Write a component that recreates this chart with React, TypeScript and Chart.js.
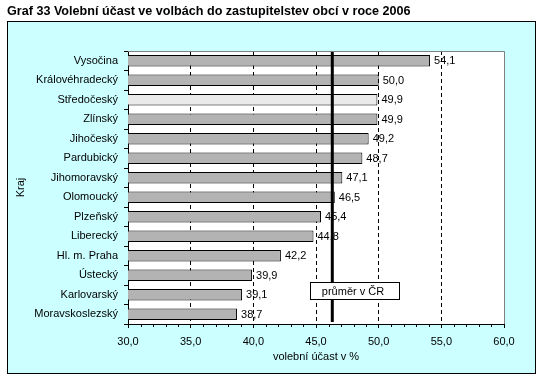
import React, { useEffect, useRef } from "react";
import { Chart, registerables } from "chart.js";

Chart.register(...registerables);

const chartTitle = "Graf 33 Volební účast ve volbách do zastupitelstev obcí v roce 2006";
const xAxisTitle = "volební účast v %";
const yAxisTitle = "Kraj";
const averageLabel = "průměr v ČR";

const regions = [
  "Vysočina",
  "Královéhradecký",
  "Středočeský",
  "Zlínský",
  "Jihočeský",
  "Pardubický",
  "Jihomoravský",
  "Olomoucký",
  "Plzeňský",
  "Liberecký",
  "Hl. m. Praha",
  "Ústecký",
  "Karlovarský",
  "Moravskoslezský",
];
const turnout = [54.1, 50.0, 49.9, 49.9, 49.2, 48.7, 47.1, 46.5, 45.4, 44.8, 42.2, 39.9, 39.1, 38.7];
const highlightedRegion = "Středočeský";
const averageCR = 46.3;
const xMin = 30;
const xMax = 60;
const xStep = 5;
const xMinorStep = 1;

const FONT = '"Liberation Sans", Arial, sans-serif';
const fmt = (v: number) => v.toFixed(1).replace(".", ",");

const framePlugin = {
  id: "frame",
  beforeDraw(chart: any) {
    const { ctx, chartArea: a } = chart;
    ctx.save();
    ctx.fillStyle = "#ffffff";
    ctx.fillRect(0, 0, chart.width, chart.height);
    ctx.fillStyle = "#CCFFFF";
    ctx.fillRect(7, 21, 529, 353);
    ctx.strokeStyle = "#000000";
    ctx.lineWidth = 1;
    ctx.strokeRect(7.5, 21.5, 528, 352);
    ctx.fillStyle = "#ffffff";
    ctx.fillRect(a.left, a.top, a.right - a.left, a.bottom - a.top);
    // title
    ctx.fillStyle = "#000000";
    ctx.font = `bold 12.6px ${FONT}`;
    ctx.textAlign = "left";
    ctx.textBaseline = "alphabetic";
    ctx.fillText(chartTitle, 7, 15);
    // axis titles
    ctx.font = `11px ${FONT}`;
    ctx.textAlign = "center";
    ctx.textBaseline = "middle";
    ctx.fillText(xAxisTitle, (a.left + a.right) / 2, 357);
    ctx.save();
    ctx.translate(21, (a.top + a.bottom) / 2);
    ctx.rotate(-Math.PI / 2);
    ctx.fillText(yAxisTitle, 0, 0);
    ctx.restore();
    ctx.restore();
  },
  afterDatasetsDraw(chart: any) {
    const { ctx, chartArea: a, scales } = chart;
    const xs = scales.x;
    ctx.save();
    // plot border top/right
    ctx.strokeStyle = "#808080";
    ctx.lineWidth = 1;
    ctx.beginPath();
    ctx.moveTo(a.left, a.top + 0.5);
    ctx.lineTo(a.right + 0.5, a.top + 0.5);
    ctx.lineTo(a.right + 0.5, a.bottom);
    ctx.stroke();
    // minor ticks
    ctx.strokeStyle = "#000000";
    ctx.beginPath();
    for (let v = xMin; v <= xMax; v += xMinorStep) {
      if (v % xStep === 0) continue;
      const px = Math.round(xs.getPixelForValue(v)) + 0.5;
      ctx.moveTo(px, a.bottom);
      ctx.lineTo(px, a.bottom + 3);
    }
    ctx.stroke();
    // average line
    const ax = xs.getPixelForValue(averageCR);
    ctx.lineWidth = 3;
    ctx.beginPath();
    ctx.moveTo(ax, a.top + 1);
    ctx.lineTo(ax, a.bottom - 2);
    ctx.stroke();
    // annotation box
    const bx = Math.round(ax - 22) + 0.5;
    const by = Math.round(a.bottom - 42) + 0.5;
    const bw = 89;
    const bh = 17;
    ctx.fillStyle = "#ffffff";
    ctx.fillRect(bx, by, bw, bh);
    ctx.lineWidth = 1;
    ctx.strokeRect(bx, by, bw, bh);
    ctx.fillStyle = "#000000";
    ctx.font = `11px ${FONT}`;
    ctx.textAlign = "center";
    ctx.textBaseline = "middle";
    ctx.fillText(averageLabel, bx + bw / 2 - 2, by + bh / 2 + 0.5);
    // data labels
    const meta = chart.getDatasetMeta(0);
    ctx.textAlign = "left";
    meta.data.forEach((bar: any, i: number) => {
      ctx.fillText(fmt(turnout[i]), bar.x + 4, bar.y + 0.5);
    });
    ctx.restore();
  },
};

export default function App() {
  const ref = useRef<HTMLCanvasElement | null>(null);
  useEffect(() => {
    if (!ref.current) return;
    const chart = new Chart(ref.current, {
      type: "bar",
      data: {
        labels: regions,
        datasets: [
          {
            data: turnout,
            backgroundColor: regions.map((r) => (r === highlightedRegion ? "#EAEAEA" : "#B3B3B3")),
            borderColor: "#000000",
            borderWidth: 1,
            borderSkipped: false,
            barPercentage: 0.6,
            categoryPercentage: 1,
          },
        ],
      },
      options: {
        indexAxis: "y",
        animation: false,
        responsive: false,
        devicePixelRatio: 1,
        layout: { padding: { left: 0, top: 51, right: 38, bottom: 0 } },
        plugins: {
          legend: { display: false },
          tooltip: { enabled: false },
          title: { display: false },
        },
        scales: {
          x: {
            type: "linear",
            min: xMin,
            max: xMax,
            afterFit: (s: any) => {
              s.height = 57;
            },
            ticks: {
              stepSize: xStep,
              color: "#000000",
              font: { family: FONT, size: 11 },
              padding: 7,
              callback: (v: any) => fmt(Number(v)),
            },
            grid: {
              color: (c: any) =>
                c.tick && (c.tick.value === xMin || c.tick.value === xMax) ? "rgba(0,0,0,0)" : "#000000",
              tickColor: "#000000",
              tickLength: 4,
              lineWidth: 1,
            },
            border: { color: "#000000", width: 1, dash: [4, 3] },
          },
          y: {
            type: "category",
            afterFit: (s: any) => {
              s.width = 128;
            },
            ticks: {
              color: "#000000",
              font: { family: FONT, size: 11 },
              padding: 6,
            },
            grid: {
              drawOnChartArea: false,
              drawTicks: true,
              tickLength: 4,
              color: "#000000",
              tickColor: "#000000",
              offset: true,
            },
            border: { color: "#000000", width: 1 },
          },
        },
      },
      plugins: [framePlugin],
    } as any);
    return () => chart.destroy();
  }, []);
  return (
    <div style={{ position: "absolute", left: 0, top: 0, width: 542, height: 381 }}>
      <canvas ref={ref} width={542} height={381} style={{ display: "block" }} />
    </div>
  );
}
